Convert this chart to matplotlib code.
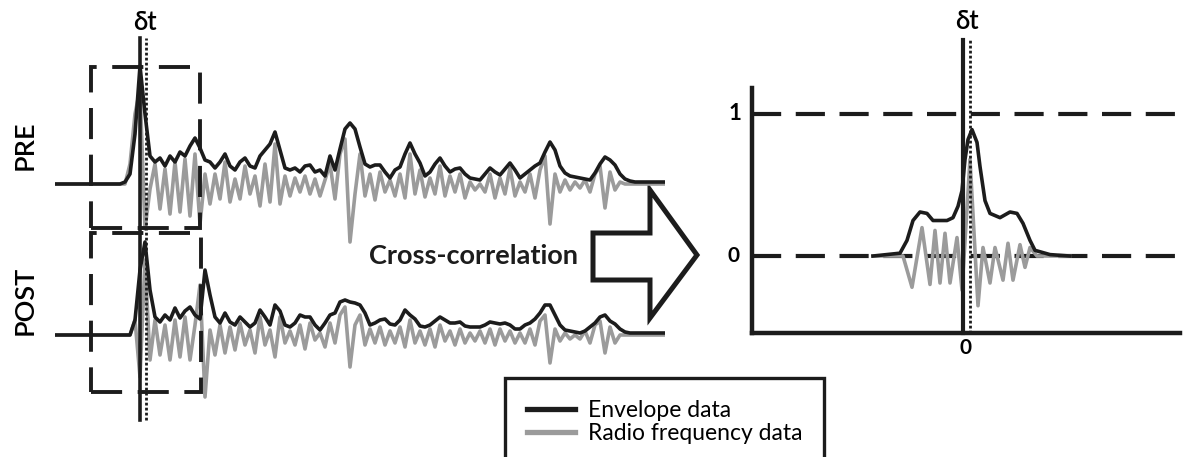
import numpy as np
import matplotlib.pyplot as plt
from matplotlib.patches import Polygon, Rectangle
from matplotlib.lines import Line2D

plt.rcParams['font.family'] = ['Lato', 'DejaVu Sans']

W, H = 1186, 457

# Echo traces, one sample every 5 px; amplitudes in arbitrary units above the baseline
pre_env = [0, 0, 0, 0, 0, 0, 0, 0, 0, 0,
           0, 0, 0, 0, 2, 10, 50, 118, 70, 28,
           22, 26, 18, 28, 22, 32, 28, 38, 46, 36,
           24, 22, 16, 22, 30, 18, 14, 22, 26, 18,
           16, 28, 34, 40, 52, 34, 16, 14, 16, 12,
           18, 19, 12, 14, 8, 28, 14, 35, 55, 61,
           55, 37, 20, 17, 19, 19, 12, 6, 14, 17,
           30, 41, 30, 21, 8, 12, 20, 26, 18, 12,
           15, 16, 10, 6, 5, 4, 10, 16, 12, 9,
           15, 21, 14, 6, 10, 14, 18, 21, 32, 42,
           34, 18, 11, 8, 7, 6, 5, 4, 11, 20,
           27, 24, 19, 10, 5, 3, 2, 2, 2, 2,
           2, 2, 2]
pre_rf = [0, 0, 0, 0, 0, 0, 0, 0, 0, 0,
          0, 0, 0, 0, 0, 20, 70, 95, -45, -5,
          20, -25, 15, -30, 22, -28, 25, -32, 30, -40,
          10, -20, 10, -15, 22, -18, 5, -15, 18, -10,
          8, -22, 20, -18, 40, -20, 8, -12, 6, -8,
          8, -10, 5, -12, 4, 20, -15, 30, 45, -58,
          -10, 30, -12, 10, -16, 12, -8, 4, -12, 10,
          -14, 30, -10, 14, -13, 6, -10, 18, -12, 8,
          -8, 10, -14, 2, -6, 0, -8, 10, -14, 6,
          -10, 16, -12, 2, -8, 10, -14, 14, 28, -40,
          10, -8, 4, -6, 2, -4, 4, -8, 10, 18,
          -24, 12, -6, 2, 0, 0, 0, 0, 0, 0,
          0, 0, 0]
post_env = [0, 0, 0, 0, 0, 0, 0, 0, 0, 0,
            0, 0, 0, 0, 0, 0, 15, 65, 93, 45,
            18, 13, 20, 15, 27, 17, 24, 28, 20, 16,
            65, 40, 18, 12, 22, 13, 10, 18, 13, 8,
            12, 25, 18, 10, 30, 24, 10, 8, 12, 20,
            18, 18, 10, 5, 12, 20, 22, 33, 35, 33,
            32, 30, 22, 10, 12, 15, 16, 11, 10, 15,
            25, 20, 16, 9, 8, 10, 14, 18, 15, 12,
            12, 13, 9, 8, 8, 8, 10, 13, 12, 11,
            12, 10, 6, 6, 10, 12, 16, 22, 30, 30,
            20, 10, 5, 4, 3, 2, 4, 8, 12, 18,
            20, 14, 11, 6, 3, 2, 2, 2, 2, 2,
            2, 2, 2]
post_rf = [0, 0, 0, 0, 0, 0, 0, 0, 0, 0,
           0, 0, 0, 0, 0, 0, 15, -42, 75, -25,
           15, -20, 10, -25, 15, -22, 18, -25, 10, 50,
           -62, 5, -20, 10, -18, 8, -15, 12, -10, 5,
           -18, 18, -10, 5, -22, 18, -8, 4, -10, 10,
           -14, 12, -5, 2, -12, 12, -8, 20, 28, -32,
           10, 20, -10, 6, -8, 8, -10, 4, -8, 8,
           -12, 15, -8, 4, -10, 6, -12, 10, -6, 4,
           -10, 6, -8, 2, -6, 4, -8, 6, -10, 6,
           -6, 4, -8, 2, -8, 6, -10, 14, 20, -28,
           6, -6, 2, -4, 0, -4, 4, -8, 10, 14,
           -18, 8, -8, 0, 0, 0, 0, 0, 0, 0,
           0, 0, 0]

# Cross-correlation between the two windows (lag in samples)
cc_lag_env = [-18, -12.6, -11.2, -10, -8.6, -7.2, -6, -3.2, -2, -1, -0.2, 0.4, 1,
              1.8, 2.8, 3.4, 4.4, 5.4, 7.4, 9.4, 10.8, 12, 13.4, 14.4, 17.4, 21.4]
cc_env = [0, 0.02, 0.11, 0.25, 0.31, 0.30, 0.25, 0.25, 0.27, 0.35, 0.46, 0.68, 0.82,
          0.89, 0.80, 0.63, 0.39, 0.30, 0.27, 0.31, 0.30, 0.23, 0.11, 0.04, 0.01, 0]
cc_lag_rf = [-18, -12, -10.2, -8.2, -6.6, -5.6, -4.6, -3.6, -2.6, -1.2, -0.2, 1.4,
             3, 4, 5.4, 6.4, 8, 9, 10, 11.4, 12.4, 13.4, 14.8, 21.4]
cc_rf = [0, 0, -0.22, 0.2, -0.2, 0.18, -0.19, 0.16, -0.19, 0.13, -0.24, 0.68,
         -0.35, 0.06, -0.19, 0.06, -0.17, 0.09, -0.17, 0.08, -0.08, 0.06, 0, 0]

PRE_OFFSET = 151      # PRE trace drawn above POST
t_ref = 17.0          # peak position in PRE window
t_shift = 18.2        # peak position in POST window
lag_shift = 1.4       # lag of cross-correlation maximum

BLACK = '#1c1c1c'
GREY = '#9b9b9b'
LW = 2.6


def px_axes(fig, x0, y0, x1, y1):
    return fig.add_axes([x0 / W, 1 - y1 / H, (x1 - x0) / W, (y1 - y0) / H])


fig = plt.figure(figsize=(W / 100, H / 100), dpi=100)

# background layer in pixel units for the arrow and caption
bg = fig.add_axes([0, 0, 1, 1])
bg.set_xlim(0, W)
bg.set_ylim(H, 0)
bg.axis('off')

# --- PRE / POST traces ---
ax = px_axes(fig, 55, 20, 665, 440)
t = np.arange(len(pre_env))
ax.plot(t, np.array(pre_rf) + PRE_OFFSET, color=GREY, lw=LW, zorder=2)
ax.plot(t, np.array(pre_env) + PRE_OFFSET, color=BLACK, lw=LW, zorder=3)
ax.plot(t, post_rf, color=GREY, lw=LW, zorder=2)
ax.plot(t, post_env, color=BLACK, lw=LW, zorder=3)
ax.set_xlim(0, len(t) - 1)
ax.set_ylim(-105, 315)
ax.axis('off')

ax.plot([t_ref, t_ref], [-85, 297], color=BLACK, lw=2.6, zorder=4, clip_on=False)
ax.plot([t_shift, t_shift], [-85, 297], color=BLACK, lw=2.0, ls=(0, (1, 0.8)),
        zorder=4, clip_on=False)

box_style = dict(fill=False, ec=BLACK, lw=2.8, ls=(0, (8, 4)), zorder=5, clip_on=False)
ax.add_patch(Rectangle((7.2, 107), 21.8, 161, **box_style))
ax.add_patch(Rectangle((7.2, -57), 22.0, 159, **box_style))

ax.text(-6, 190, 'PRE', rotation=90, ha='center', va='center', fontsize=19.5,
        fontweight='semibold', clip_on=False)
ax.text(-6, 35, 'POST', rotation=90, ha='center', va='center', fontsize=19.5,
        fontweight='semibold', clip_on=False)
ax.text(18, 313, 'δt', ha='center', va='center', fontsize=18.5,
        fontweight='semibold', clip_on=False)

# --- arrow ---
arrow = Polygon([(593, 233), (650, 233), (650, 190), (697, 255), (650, 318),
                 (650, 280), (593, 280)], closed=True, fc='white', ec=BLACK,
                lw=3.6, joinstyle='miter')
bg.add_patch(arrow)
bg.text(473, 256, 'Cross-correlation', ha='center', va='center', fontsize=19.5,
        fontweight='bold', color=BLACK)

# --- cross-correlation plot ---
ax2 = px_axes(fig, 752, 88, 1180, 333)
ax2.plot(cc_lag_rf, cc_rf, color=GREY, lw=LW, zorder=3)
ax2.plot(cc_lag_env, cc_env, color=BLACK, lw=LW, zorder=4)
ax2.axhline(1, color=BLACK, lw=3, ls=(0, (7, 3.5)), zorder=2)
ax2.axhline(0, color=BLACK, lw=3, ls=(0, (7, 3.5)), zorder=2)
ax2.set_xlim(-42.2, 43.4)
ax2.set_ylim(-0.542, 1.183)
for side in ['top', 'right']:
    ax2.spines[side].set_visible(False)
for side in ['left', 'bottom']:
    ax2.spines[side].set_linewidth(3.2)
    ax2.spines[side].set_color(BLACK)
ax2.set_xticks([])
ax2.set_yticks([])
ax2.patch.set_alpha(0)

ax2.plot([0, 0], [-0.542, 1.52], color=BLACK, lw=3, zorder=5, clip_on=False)
ax2.plot([lag_shift, lag_shift], [-0.542, 1.52], color=BLACK, lw=2.0,
         ls=(0, (1, 0.8)), zorder=5, clip_on=False)

ax2.text(-45.6, 1, '1', ha='center', va='center', fontsize=16, fontweight='bold',
         clip_on=False)
ax2.text(-46, 0, '0', ha='center', va='center', fontsize=15, fontweight='bold',
         clip_on=False)
ax2.text(0.6, -0.65, '0', ha='center', va='center', fontsize=15, fontweight='bold',
         clip_on=False)
ax2.text(0.8, 1.65, 'δt', ha='center', va='center', fontsize=18.5,
         fontweight='semibold', clip_on=False)

# --- legend ---
handles = [Line2D([], [], color=BLACK, lw=3.8), Line2D([], [], color=GREY, lw=3.8)]
leg = fig.legend(handles, ['Envelope data', 'Radio frequency data'], loc='upper left',
                 bbox_to_anchor=(505 / W, 1 - 378 / H), frameon=True, fancybox=False,
                 edgecolor=BLACK, framealpha=1, fontsize=16.5, borderpad=0.95,
                 handlelength=2.1, handletextpad=0.55, labelspacing=0.1,
                 borderaxespad=0)
leg.get_frame().set_linewidth(2.4)

fig.savefig('out.png', dpi=100)
